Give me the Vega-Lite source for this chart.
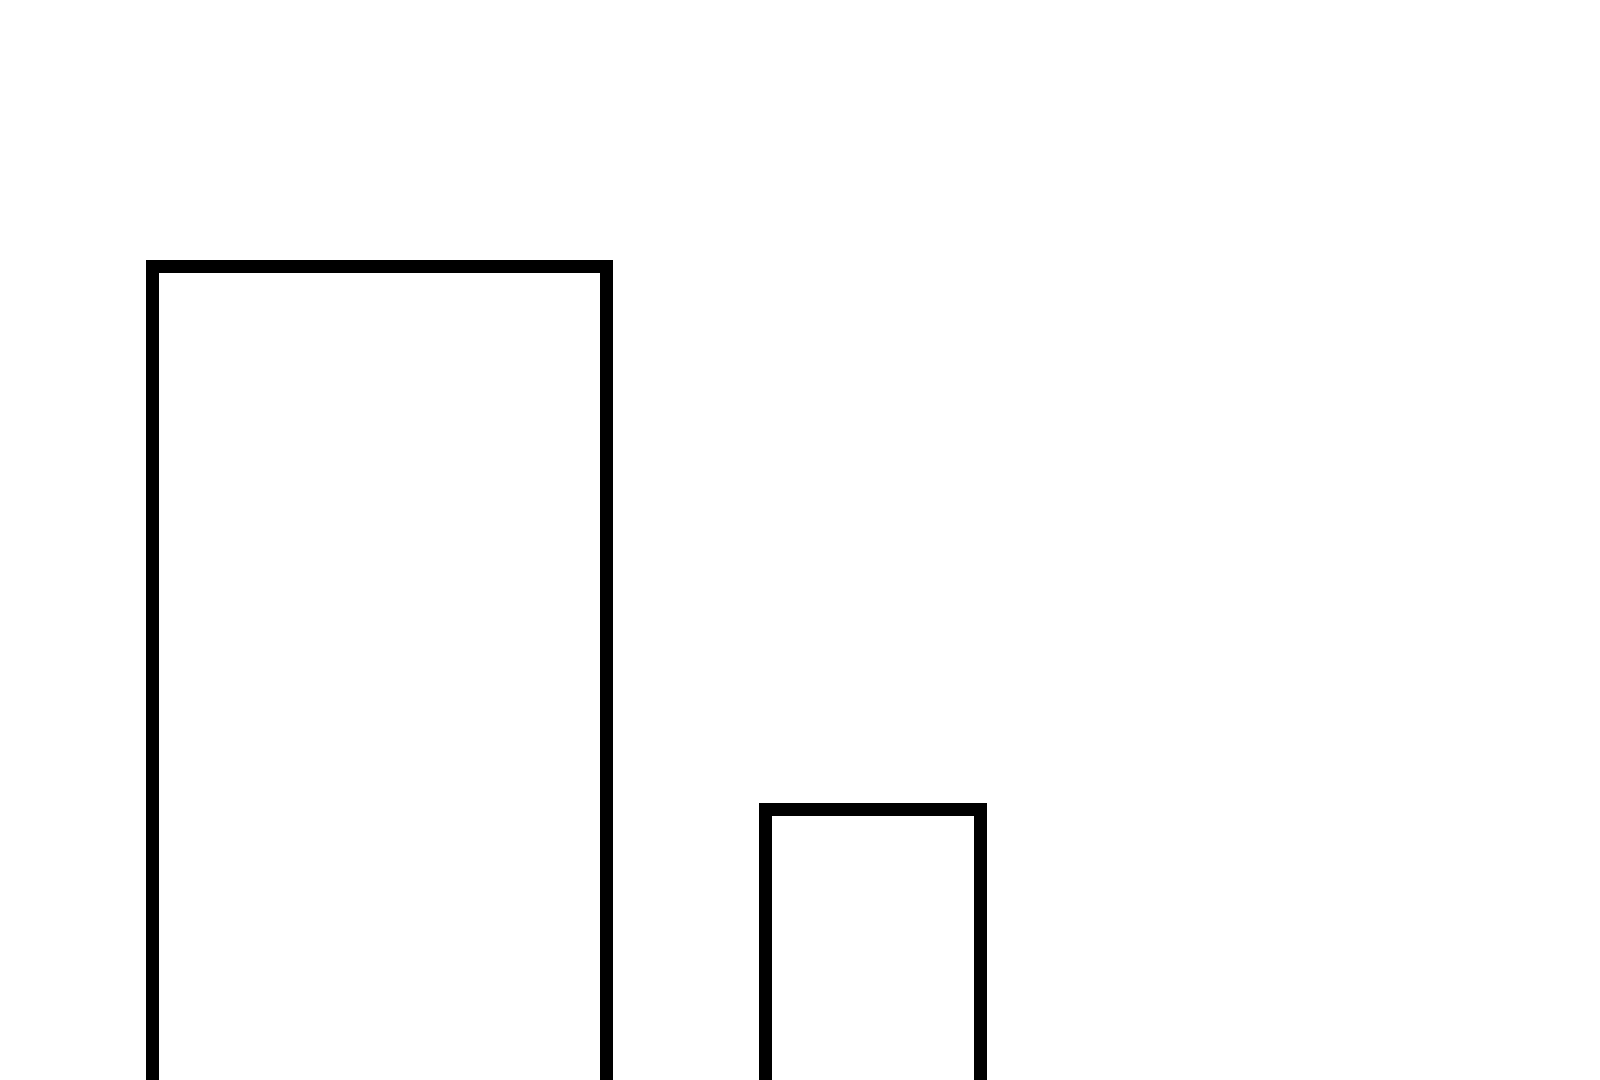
{
  "$schema": "https://vega.github.io/schema/vega-lite/v6.json",
  "width": 1600,
  "height": 1080,
  "autosize": {"type": "fit", "contains": "padding"},
  "padding": 0,
  "background": "white",
  "data": {
    "values": [
      {"bar": "A", "left": 152.5, "right": 606.5, "top": 813.5},
      {"bar": "B", "left": 765.5, "right": 980.5, "top": 270.5}
    ]
  },
  "mark": {
    "type": "rect",
    "fill": "white",
    "stroke": "black",
    "strokeWidth": 13,
    "strokeJoin": "miter",
    "clip": true
  },
  "encoding": {
    "x": {
      "field": "left",
      "type": "quantitative",
      "scale": {"domain": [0, 1600], "nice": false, "zero": false},
      "axis": null
    },
    "x2": {"field": "right"},
    "y": {
      "field": "top",
      "type": "quantitative",
      "scale": {"domain": [0, 1080], "nice": false, "zero": false},
      "axis": null
    },
    "y2": {"datum": -30}
  },
  "config": {"view": {"stroke": null}}
}
